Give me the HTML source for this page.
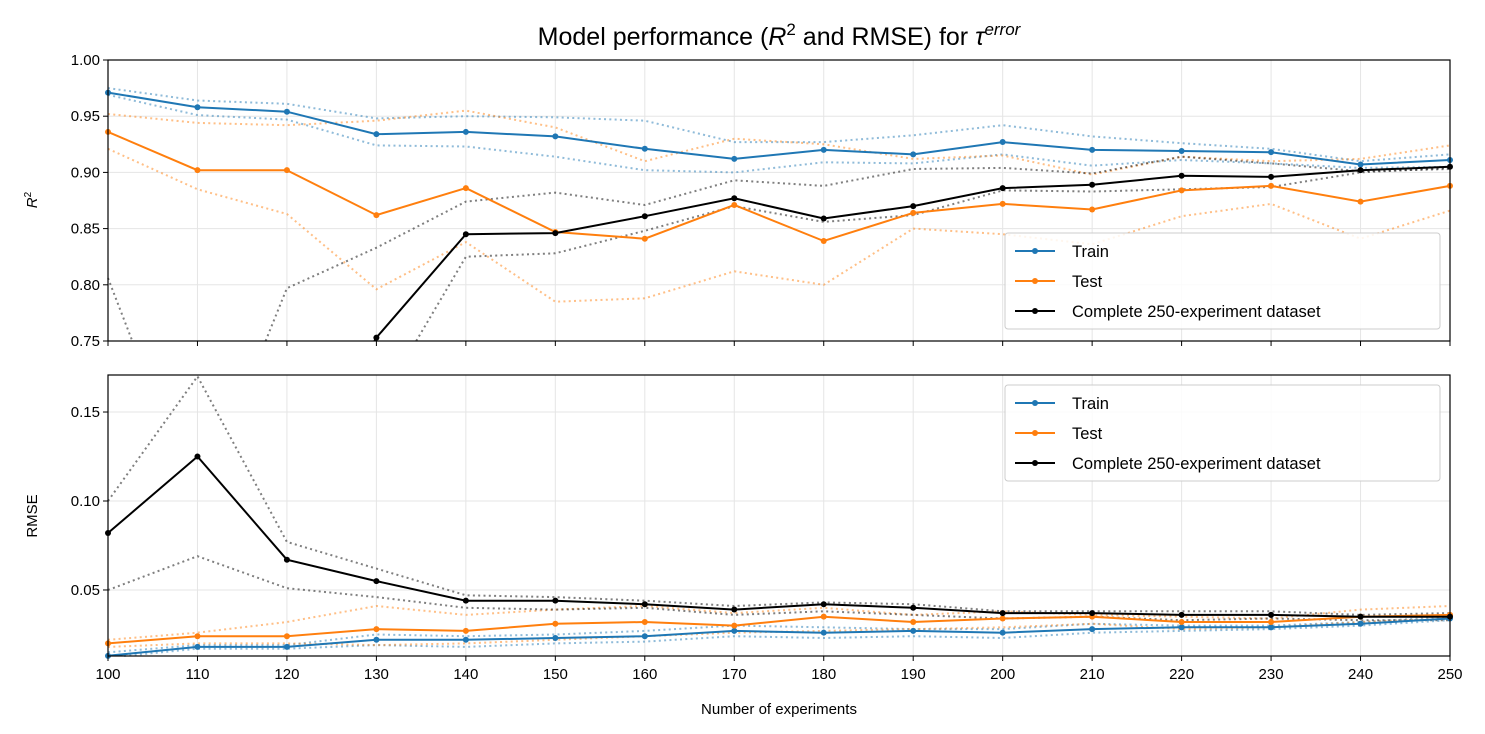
<!DOCTYPE html>
<html><head><meta charset="utf-8"><style>
html,body{margin:0;padding:0;background:#fff;width:1485px;height:734px;overflow:hidden;}
#wrap{position:relative;width:1485px;height:734px;overflow:hidden;}
svg{position:absolute;left:0;top:0;font-family:"Liberation Sans","DejaVu Sans",sans-serif;}
</style></head><body>
<div id="wrap">
<svg id="chart" width="1485" height="734" viewBox="0 0 1485 734" xmlns="http://www.w3.org/2000/svg"></svg>
<svg width="1485" height="734" xmlns="http://www.w3.org/2000/svg" font-family="Liberation Sans, DejaVu Sans, sans-serif">
<text x="779" y="45" text-anchor="middle" font-size="25">Model performance (<tspan font-style="italic">R</tspan><tspan font-size="17" dy="-10">2</tspan><tspan dy="10"> and RMSE) for </tspan><tspan font-style="italic">τ</tspan><tspan font-style="italic" font-size="17" dy="-10">error</tspan></text>
<text transform="translate(37,200) rotate(-90)" text-anchor="middle" font-size="15"><tspan font-style="italic">R</tspan><tspan font-size="10" dy="-6">2</tspan></text>
<text transform="translate(37,516) rotate(-90)" text-anchor="middle" font-size="15">RMSE</text>
<text x="779" y="714" text-anchor="middle" font-size="15">Number of experiments</text>
</svg>
</div>
<script>
const xs=[100,110,120,130,140,150,160,170,180,190,200,210,220,230,240,250];
const xTicks=[100,110,120,130,140,150,160,170,180,190,200,210,220,230,240,250];
const r2Ticks=[0.75,0.80,0.85,0.90,0.95,1.00];
const rmseTicks=[0.05,0.10,0.15];
const r2Train=[0.971,0.958,0.954,0.934,0.936,0.932,0.921,0.912,0.920,0.916,0.927,0.920,0.919,0.918,0.907,0.911];
const r2TrainHi=[0.975,0.964,0.961,0.948,0.950,0.949,0.946,0.927,0.927,0.933,0.942,0.932,0.926,0.921,0.910,0.916];
const r2TrainLo=[0.969,0.951,0.947,0.924,0.923,0.914,0.902,0.900,0.909,0.908,0.916,0.906,0.911,0.908,0.904,0.905];
const r2Test=[0.936,0.902,0.902,0.862,0.886,0.847,0.841,0.871,0.839,0.864,0.872,0.867,0.884,0.888,0.874,0.888];
const r2TestHi=[0.952,0.944,0.942,0.946,0.955,0.940,0.910,0.930,0.925,0.912,0.915,0.898,0.914,0.910,0.912,0.924];
const r2TestLo=[0.921,0.885,0.863,0.796,0.838,0.785,0.788,0.812,0.800,0.850,0.845,0.836,0.861,0.872,0.841,0.866];
const r2Full=[0.55,0.30,0.62,0.753,0.845,0.846,0.861,0.877,0.859,0.870,0.886,0.889,0.897,0.896,0.902,0.905];
const r2FullHi=[0.806,0.60,0.797,0.833,0.874,0.882,0.871,0.893,0.888,0.903,0.904,0.899,0.914,0.908,0.901,0.903];
const r2FullLo=[0.3,0.0,0.5,0.69,0.825,0.828,0.848,0.870,0.856,0.862,0.884,0.883,0.885,0.887,0.900,0.904];
const rmTrain=[0.013,0.018,0.018,0.022,0.022,0.023,0.024,0.027,0.026,0.027,0.026,0.028,0.029,0.029,0.031,0.034];
const rmTrainHi=[0.015,0.019,0.019,0.025,0.024,0.025,0.027,0.030,0.029,0.028,0.028,0.031,0.030,0.030,0.032,0.035];
const rmTrainLo=[0.012,0.017,0.017,0.019,0.018,0.020,0.021,0.024,0.023,0.024,0.023,0.026,0.027,0.028,0.030,0.033];
const rmTest=[0.020,0.024,0.024,0.028,0.027,0.031,0.032,0.030,0.035,0.032,0.034,0.035,0.032,0.032,0.035,0.036];
const rmTestHi=[0.022,0.026,0.032,0.041,0.036,0.039,0.041,0.037,0.040,0.036,0.038,0.036,0.035,0.034,0.039,0.041];
const rmTestLo=[0.018,0.020,0.020,0.019,0.020,0.022,0.024,0.026,0.027,0.028,0.029,0.031,0.028,0.029,0.032,0.034];
const rmFull=[0.082,0.125,0.067,0.055,0.044,0.044,0.042,0.039,0.042,0.040,0.037,0.037,0.036,0.036,0.035,0.035];
const rmFullHi=[0.100,0.170,0.077,0.062,0.047,0.046,0.044,0.041,0.043,0.042,0.038,0.038,0.038,0.038,0.036,0.037];
const rmFullLo=[0.050,0.069,0.051,0.046,0.040,0.039,0.040,0.036,0.038,0.036,0.034,0.035,0.033,0.034,0.033,0.033];

const NS="http://www.w3.org/2000/svg";
const svg=document.getElementById('chart');
function mk(tag,attrs,parent){const e=document.createElementNS(NS,tag);for(const k in attrs)e.setAttribute(k,attrs[k]);(parent||svg).appendChild(e);return e;}
const X0=108,X1=1450;
const xS=v=>X0+(v-100)/150*(X1-X0);
const BLUE='#1f77b4',ORANGE='#ff7f0e',BLACK='#000000';

// clip a polyline to vertical band [top,bot], return path d
function clipPath(pts,top,bot){
  let d='';let pen=false;
  const clampSeg=(a,b)=>{
    let t0=0,t1=1;const dy=b[1]-a[1];
    if(dy===0){if(a[1]<top||a[1]>bot)return null;return [a,b];}
    const tTop=(top-a[1])/dy,tBot=(bot-a[1])/dy;
    const lo=Math.min(tTop,tBot),hi=Math.max(tTop,tBot);
    t0=Math.max(t0,lo);t1=Math.min(t1,hi);
    if(t0>t1)return null;
    const P=t=>[a[0]+(b[0]-a[0])*t,a[1]+dy*t];
    return [P(t0),P(t1),t0,t1];
  };
  for(let i=0;i<pts.length-1;i++){
    const s=clampSeg(pts[i],pts[i+1]);
    if(!s){pen=false;continue;}
    if(!pen||(s[2]!==undefined&&s[2]>0)){d+='M'+s[0][0].toFixed(1)+' '+s[0][1].toFixed(1)+' ';}
    d+='L'+s[1][0].toFixed(1)+' '+s[1][1].toFixed(1)+' ';
    pen=!(s[3]!==undefined&&s[3]<1);
  }
  return d||'M0 0';
}

function panel(name,top,bot,ymin,ymax,ticks,fmt,series,showX){
  const yS=v=>bot-(v-ymin)/(ymax-ymin)*(bot-top);
  const g=mk('g',{});
  
  
  xTicks.forEach(t=>{const l=mk('line',{x1:xS(t),x2:xS(t),y1:top,y2:bot,stroke:'#e5e5e5','stroke-width':1},g);});
  ticks.forEach(t=>{const l=mk('line',{x1:X0,x2:X1,y1:yS(t),y2:yS(t),stroke:'#e5e5e5','stroke-width':1},g);});
  series.forEach(s=>{
    const pts=s.v.map((v,i)=>[xS(xs[i]),yS(v)]);
    const p=mk('path',{d:clipPath(pts,top,bot),fill:'none',stroke:s.c,'stroke-width':2,'stroke-opacity':s.dot?0.5:1,'stroke-dasharray':s.dot?'2,3.3':'none'},g);
    
    
    if(!s.dot) pts.forEach(pt=>{if(pt[1]<top-1||pt[1]>bot+1)return;const c=mk('circle',{cx:pt[0],cy:pt[1],r:3,fill:s.c},g);});
  });
  const fr=mk('rect',{x:X0,y:top,width:X1-X0,height:bot-top,fill:'none',stroke:'#000','stroke-width':1.2},g);
  
  ticks.forEach(t=>{mk('line',{x1:X0-5,x2:X0,y1:yS(t),y2:yS(t),stroke:'#000'},g);
    const tx=mk('text',{x:X0-8,y:yS(t)+5,'text-anchor':'end','font-size':15},g);tx.textContent=fmt(t);
    });
  xTicks.forEach(t=>{mk('line',{x1:xS(t),x2:xS(t),y1:bot,y2:bot+5,stroke:'#000'},g);
    if(showX){const tx=mk('text',{x:xS(t),y:bot+23,'text-anchor':'middle','font-size':15},g);tx.textContent=t;
    }});
  return g;
}
function legend(name,y){
  const g=mk('g',{});
  
  
  mk('rect',{x:1005,y:y,width:435,height:96,rx:3,fill:'#fff','fill-opacity':0.85,stroke:'#ccc'},g);
  [['Train',BLUE],['Test',ORANGE],['Complete 250-experiment dataset',BLACK]].forEach((e,i)=>{
    const yy=y+18+i*30;
    const eg=mk('g',{},g);
    
    
    mk('line',{x1:1015,x2:1055,y1:yy,y2:yy,stroke:e[1],'stroke-width':2},eg);
    mk('circle',{cx:1035,cy:yy,r:3,fill:e[1]},eg);
    const t=mk('text',{x:1072,y:yy+6,'font-size':16.5},eg);t.textContent=e[0];
  });
}
panel('r2-panel',60,341,0.75,1.0,r2Ticks,t=>t.toFixed(2),[
 {v:r2TrainHi,c:BLUE,dot:1,n:'train-r2-upper'},{v:r2TrainLo,c:BLUE,dot:1,n:'train-r2-lower'},
 {v:r2TestHi,c:ORANGE,dot:1,n:'test-r2-upper'},{v:r2TestLo,c:ORANGE,dot:1,n:'test-r2-lower'},
 {v:r2FullHi,c:BLACK,dot:1,n:'full-r2-upper'},{v:r2FullLo,c:BLACK,dot:1,n:'full-r2-lower'},
 {v:r2Train,c:BLUE,n:'train-r2-line'},{v:r2Test,c:ORANGE,n:'test-r2-line'},{v:r2Full,c:BLACK,n:'full-r2-line'}],false);
panel('rmse-panel',375,656,0.0129,0.1708,rmseTicks,t=>t.toFixed(2),[
 {v:rmTrainHi,c:BLUE,dot:1,n:'train-rmse-upper'},{v:rmTrainLo,c:BLUE,dot:1,n:'train-rmse-lower'},
 {v:rmTestHi,c:ORANGE,dot:1,n:'test-rmse-upper'},{v:rmTestLo,c:ORANGE,dot:1,n:'test-rmse-lower'},
 {v:rmFullHi,c:BLACK,dot:1,n:'full-rmse-upper'},{v:rmFullLo,c:BLACK,dot:1,n:'full-rmse-lower'},
 {v:rmTrain,c:BLUE,n:'train-rmse-line'},{v:rmTest,c:ORANGE,n:'test-rmse-line'},{v:rmFull,c:BLACK,n:'full-rmse-line'}],true);
legend('r2-legend',233);
legend('rmse-legend',385);
</script>
</body></html>
